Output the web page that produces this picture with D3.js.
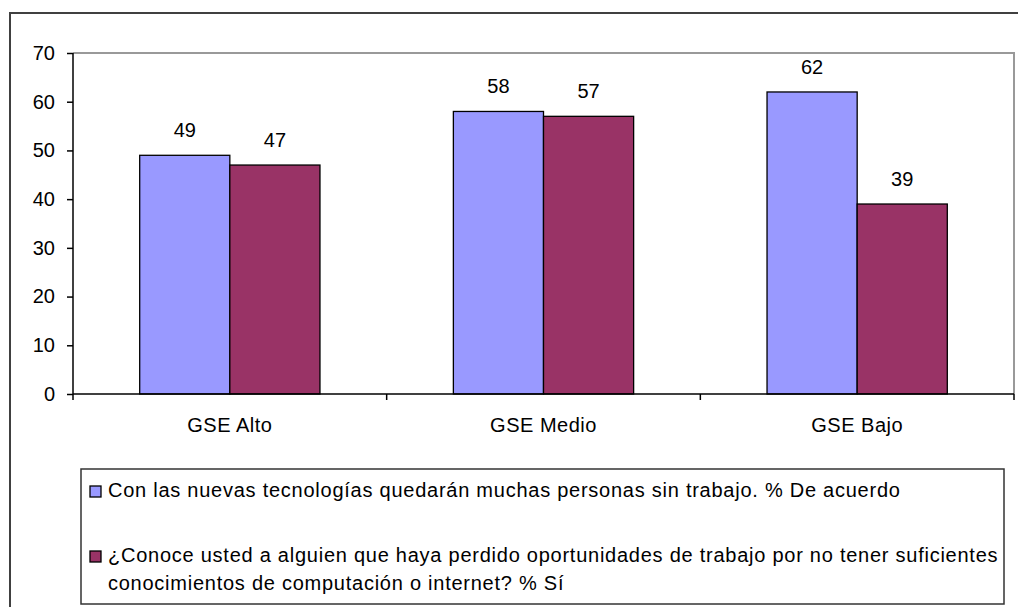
<!DOCTYPE html>
<html>
<head>
<meta charset="utf-8">
<script src="https://cdn.jsdelivr.net/npm/d3@7"></script>
<style>
  body { margin: 0; background: #fff; }
  text { font-family: Arial, "Liberation Sans", sans-serif; fill: #000; }
</style>
</head>
<body>
<div id="chart"></div>
<script>
// chart data
var categories = ["GSE Alto", "GSE Medio", "GSE Bajo"];
var seriesNames = [
    "Con las nuevas tecnologías quedarán muchas personas sin trabajo. % De acuerdo",
    "¿Conoce usted a alguien que haya perdido oportunidades de trabajo por no tener suficientes|conocimientos de computación o internet? % Sí"
];
var acuerdo = [49, 58, 62];
var conoce = [47, 57, 39];
var yTicks = [0, 10, 20, 30, 40, 50, 60, 70];
var colors = ["#9999FF", "#993366"];

function init() {
    var w = 1018, h = 607;
    var fontSize = 20;

    var svg = d3.select("#chart").append("svg")
        .attr("width", w)
        .attr("height", h);

    // outer chart border (right and bottom run off the picture)
    svg.append("rect")
        .attr("x", 10).attr("y", 13)
        .attr("width", 1030).attr("height", 620)
        .attr("fill", "#fff")
        .attr("stroke", "#404040")
        .attr("stroke-width", 2);

    var plot = { left: 73, right: 1014, top: 53, bottom: 394 };

    var x0 = d3.scaleBand()
        .domain(categories)
        .range([plot.left, plot.right]);

    var x1 = d3.scaleBand()
        .domain([0, 1])
        .range([0, x0.bandwidth()])
        .paddingInner(0)
        .paddingOuter(0.74);

    var y = d3.scaleLinear()
        .domain([0, 70])
        .range([plot.bottom, plot.top]);

    // plot area frame (grey top and right)
    svg.append("path")
        .attr("d", "M" + plot.left + "," + plot.top + "H" + plot.right + "V" + plot.bottom)
        .attr("fill", "none")
        .attr("stroke", "#999")
        .attr("stroke-width", 2);

    // bars
    var rows = categories.map(function(c, i) {
        return { cat: c, values: [acuerdo[i], conoce[i]] };
    });

    var groups = svg.selectAll("g.grp")
        .data(rows)
        .enter().append("g")
        .attr("class", "grp")
        .attr("transform", function(d) { return "translate(" + x0(d.cat) + ",0)"; });

    groups.selectAll("rect")
        .data(function(d) { return d.values; })
        .enter().append("rect")
        .attr("x", function(d, i) { return x1(i); })
        .attr("y", function(d) { return y(d); })
        .attr("width", x1.bandwidth())
        .attr("height", function(d) { return y(0) - y(d); })
        .attr("fill", function(d, i) { return colors[i]; })
        .attr("stroke", "#000")
        .attr("stroke-width", 1.3);

    groups.selectAll("text.val")
        .data(function(d) { return d.values; })
        .enter().append("text")
        .attr("class", "val")
        .attr("x", function(d, i) { return x1(i) + x1.bandwidth() / 2; })
        .attr("y", function(d) { return y(d) - 18; })
        .attr("text-anchor", "middle")
        .style("font-size", fontSize + "px")
        .text(function(d) { return d; });

    // y axis
    var yAxis = d3.axisLeft(y)
        .tickValues(yTicks)
        .tickSize(6)
        .tickPadding(12);
    var gy = svg.append("g")
        .attr("transform", "translate(" + plot.left + ",0)")
        .call(yAxis);
    gy.selectAll("text").style("font-size", fontSize + "px").attr("fill", "#000");
    gy.selectAll("line, path").attr("stroke", "#000").attr("stroke-width", 1.5);
    gy.select(".domain").attr("d", "M0," + plot.top + "V" + plot.bottom);

    // x axis
    var gx = svg.append("g")
        .attr("transform", "translate(0," + plot.bottom + ")");
    gx.append("line")
        .attr("x1", plot.left).attr("x2", plot.right)
        .attr("stroke", "#000").attr("stroke-width", 1.5);
    var bounds = categories.map(function(c) { return x0(c); }).concat([plot.right]);
    gx.selectAll("line.tick")
        .data(bounds)
        .enter().append("line")
        .attr("class", "tick")
        .attr("x1", function(d) { return d; }).attr("x2", function(d) { return d; })
        .attr("y1", 0).attr("y2", 6)
        .attr("stroke", "#000").attr("stroke-width", 1.5);
    gx.selectAll("text")
        .data(categories)
        .enter().append("text")
        .attr("x", function(d) { return x0(d) + x0.bandwidth() / 2; })
        .attr("y", 38)
        .attr("text-anchor", "middle")
        .style("font-size", fontSize + "px")
        .style("letter-spacing", "0.5px")
        .text(function(d) { return d; });

    // legend
    var lg = svg.append("g");
    lg.append("rect")
        .attr("x", 81).attr("y", 469)
        .attr("width", 923).attr("height", 135)
        .attr("fill", "#fff")
        .attr("stroke", "#333")
        .attr("stroke-width", 1.5);

    var legendTop = [486, 551];
    seriesNames.forEach(function(name, i) {
        lg.append("rect")
            .attr("x", 90).attr("y", legendTop[i])
            .attr("width", 11).attr("height", 11)
            .attr("fill", colors[i])
            .attr("stroke", "#000")
            .attr("stroke-width", 1.3);
        var t = lg.append("text")
            .attr("x", 108)
            .attr("y", legendTop[i] + 11)
            .style("font-size", fontSize + "px")
            .style("letter-spacing", "0.75px");
        name.split("|").forEach(function(line, j) {
            t.append("tspan")
                .attr("x", 108)
                .attr("dy", j === 0 ? 0 : 28)
                .text(line);
        });
    });
}

window.onload = init;
</script>
</body>
</html>
